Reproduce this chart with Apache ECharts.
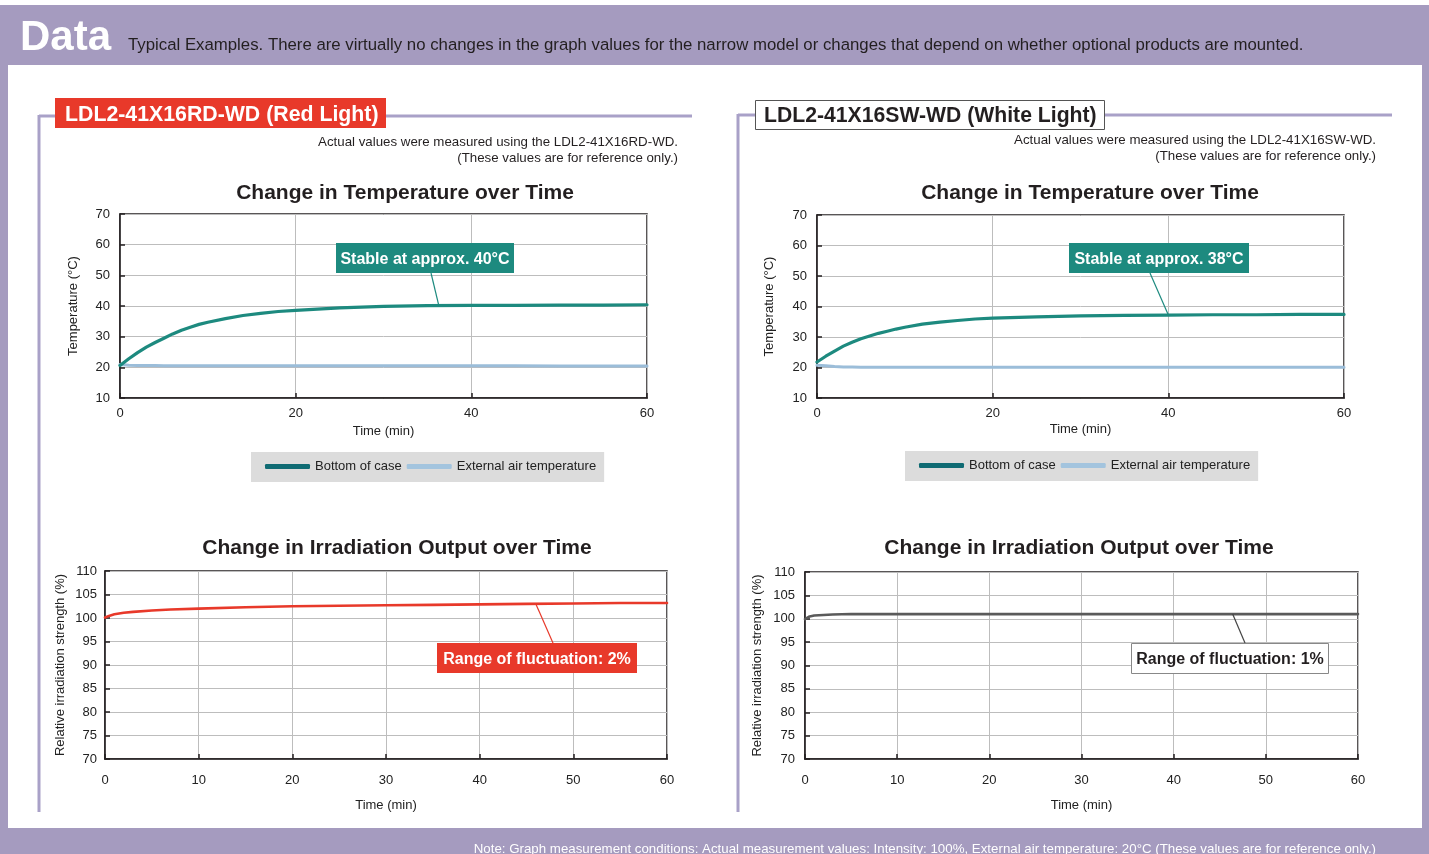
<!DOCTYPE html>
<html>
<head>
<meta charset="utf-8">
<script src="https://cdn.jsdelivr.net/npm/echarts@6/dist/echarts.min.js"></script>
<style>
html, body { margin: 0; padding: 0; background: #fff; }
#main { width: 1429px; height: 854px; }
</style>
</head>
<body>
<div id="main"></div>
<script>
// temperature curves (minutes / deg C)
var tempTime = [0, 1, 2, 3, 4, 5, 6, 7, 8, 9, 10, 12, 14, 16, 18, 20, 25, 30, 35, 40, 45, 50, 55, 60];
var redCaseTemp = [20.6, 22.8, 24.8, 26.6, 28.1, 29.5, 30.9, 32.1, 33.1, 34.0, 34.7, 35.9, 36.9, 37.6, 38.2, 38.6, 39.4, 39.9, 40.1, 40.2, 40.2, 40.3, 40.3, 40.4];
var redAirTemp = [20.9, 20.7, 20.6, 20.6, 20.6, 20.5, 20.5, 20.5, 20.5, 20.5, 20.5, 20.5, 20.5, 20.5, 20.5, 20.5, 20.5, 20.5, 20.5, 20.5, 20.5, 20.4, 20.4, 20.4];
var whiteCaseTemp = [21.8, 23.7, 25.4, 27.0, 28.3, 29.4, 30.3, 31.2, 31.9, 32.6, 33.2, 34.2, 34.9, 35.4, 35.9, 36.2, 36.6, 36.9, 37.1, 37.2, 37.3, 37.3, 37.4, 37.4];
var whiteAirTemp = [20.7, 20.6, 20.3, 20.2, 20.2, 20.1, 20.1, 20.1, 20.1, 20.1, 20.1, 20.1, 20.1, 20.1, 20.1, 20.1, 20.1, 20.1, 20.1, 20.1, 20.1, 20.1, 20.1, 20.1];

// irradiation curves (minutes / %)
var irrTime = [0, 0.5, 1, 2, 3, 5, 7, 10, 15, 20, 25, 30, 35, 40, 45, 50, 55, 60];
var redIrr = [100.1, 100.5, 100.8, 101.1, 101.3, 101.6, 101.8, 102.0, 102.3, 102.5, 102.6, 102.7, 102.8, 102.9, 103.0, 103.1, 103.2, 103.2];
var whiteIrr = [99.9, 100.5, 100.7, 100.8, 100.9, 101.0, 101.0, 101.0, 101.0, 101.0, 101.0, 101.0, 101.0, 101.0, 101.0, 101.0, 101.0, 101.0];

var tempTicks = [10, 70, 10];
var irrTicks = [70, 110, 5];

var legendNames = ['Bottom of case', 'External air temperature'];

var FONT = '"Liberation Sans", Arial, sans-serif';
var PURPLE = '#a59bbf';
var TEAL = '#1d8a7f';
var BLUE = '#9bbdd9';
var RED = '#e8392a';

function pairs(xs, ys) {
    return xs.map(function (x, i) { return [x, ys[i]]; });
}

function xAxisFor(grid, step, nameGap, margin) {
    return {
        type: 'value', gridIndex: grid, min: 0, max: 60, interval: step,
        name: 'Time (min)', nameLocation: 'middle', nameGap: nameGap,
        nameTextStyle: { fontFamily: FONT, fontSize: 13, color: '#222' },
        axisLine: { lineStyle: { color: '#231f20', width: 1.5 } },
        axisTick: { inside: true, length: 5, lineStyle: { color: '#231f20', width: 1.5 } },
        axisLabel: { fontFamily: FONT, fontSize: 13, color: '#222', margin: margin },
        splitLine: { lineStyle: { color: '#bdbdbd', width: 1 } }
    };
}

function yAxisFor(grid, ticks, name, nameGap, margin) {
    return {
        type: 'value', gridIndex: grid, min: ticks[0], max: ticks[1], interval: ticks[2],
        name: name, nameLocation: 'middle', nameGap: nameGap, nameRotate: 90,
        nameTextStyle: { fontFamily: FONT, fontSize: 13, color: '#222' },
        axisLine: { lineStyle: { color: '#231f20', width: 1.5 } },
        axisTick: { inside: true, length: 5, lineStyle: { color: '#231f20', width: 1.5 } },
        axisLabel: { fontFamily: FONT, fontSize: 13, color: '#222', margin: margin },
        splitLine: { lineStyle: { color: '#bdbdbd', width: 1 } }
    };
}

function lineSeries(name, grid, data, color, width) {
    return {
        name: name, type: 'line', xAxisIndex: grid, yAxisIndex: grid,
        data: data, smooth: false, showSymbol: false,
        lineStyle: { color: color, width: width, join: 'round', cap: 'round' },
        itemStyle: { color: color },
        z: 3
    };
}

function legendAt(left, top) {
    return {
        left: left, top: top, backgroundColor: '#dcdcdc',
        padding: [8, 8, 9, 14], itemGap: 5, itemWidth: 45, itemHeight: 5,
        icon: 'roundRect',
        textStyle: { fontFamily: FONT, fontSize: 13, color: '#222' },
        data: [
            { name: legendNames[0], itemStyle: { color: '#0f6b73' } },
            { name: legendNames[1], itemStyle: { color: '#a3c4de' } }
        ],
        selectedMode: false
    };
}

var chart = echarts.init(document.getElementById('main'));

chart.setOption({
    animation: false,
    grid: [
        { left: 120, top: 214, width: 527, height: 184, show: true, borderColor: '#231f20', borderWidth: 1.5 },
        { left: 817, top: 215, width: 527, height: 183, show: true, borderColor: '#231f20', borderWidth: 1.5 },
        { left: 105, top: 571, width: 562, height: 188, show: true, borderColor: '#231f20', borderWidth: 1.5 },
        { left: 805, top: 572, width: 553, height: 187, show: true, borderColor: '#231f20', borderWidth: 1.5 }
    ],
    xAxis: [
        xAxisFor(0, 20, 27, 9),
        xAxisFor(1, 20, 25, 9),
        xAxisFor(2, 10, 40, 15),
        xAxisFor(3, 10, 40, 15)
    ],
    yAxis: [
        yAxisFor(0, tempTicks, 'Temperature (°C)', 40, 10),
        yAxisFor(1, tempTicks, 'Temperature (°C)', 41, 10),
        yAxisFor(2, irrTicks, 'Relative irradiation strength (%)', 38, 8),
        yAxisFor(3, irrTicks, 'Relative irradiation strength (%)', 41, 10)
    ],
    legend: [legendAt(251, 452), legendAt(905, 451)],
    series: [
        lineSeries(legendNames[1], 0, pairs(tempTime, redAirTemp), BLUE, 3),
        lineSeries(legendNames[0], 0, pairs(tempTime, redCaseTemp), TEAL, 3.2),
        lineSeries(legendNames[1], 1, pairs(tempTime, whiteAirTemp), BLUE, 3),
        lineSeries(legendNames[0], 1, pairs(tempTime, whiteCaseTemp), TEAL, 3.2),
        lineSeries('Red light output', 2, pairs(irrTime, redIrr), RED, 2.6),
        lineSeries('White light output', 3, pairs(irrTime, whiteIrr), '#5a5a5a', 2.6)
    ]
});

// leader lines start on the curves
var p0 = chart.convertToPixel({ gridIndex: 0 }, [36.3, 40.1]);
var p1 = chart.convertToPixel({ gridIndex: 1 }, [40, 37.2]);
var p2 = chart.convertToPixel({ gridIndex: 2 }, [46, 103.0]);
var p3 = chart.convertToPixel({ gridIndex: 3 }, [46.4, 101.0]);

function txt(s, x, y, font, fill, align) {
    return {
        type: 'text', z: 50,
        style: { text: s, x: x, y: y, font: font, fill: fill, textAlign: align || 'left', textVerticalAlign: 'middle', verticalAlign: 'middle' }
    };
}
function rect(x, y, w, h, fill, stroke, z) {
    return {
        type: 'rect', z: z == null ? 40 : z, silent: true,
        shape: { x: x, y: y, width: w, height: h },
        style: { fill: fill, stroke: stroke || null, lineWidth: stroke ? 1 : 0 }
    };
}
function seg(x1, y1, x2, y2, color, w, z) {
    return {
        type: 'line', z: z == null ? 40 : z, silent: true,
        shape: { x1: x1, y1: y1, x2: x2, y2: y2 },
        style: { stroke: color, lineWidth: w }
    };
}

var bold21 = 'bold 21px ' + FONT;
var bold16 = 'bold 16px ' + FONT;
var reg13 = '13.3px ' + FONT;

chart.setOption({
    graphic: [
        rect(0, 5, 1429, 849, PURPLE, null, -20),
        rect(8, 65, 1414, 763, '#ffffff', null, -19),
        txt('Data', 20, 38, 'bold 42px ' + FONT, '#ffffff'),
        txt('Typical Examples. There are virtually no changes in the graph values for the narrow model or changes that depend on whether optional products are mounted.', 128, 45, '16.8px ' + FONT, '#231f20'),
        txt('Note: Graph measurement conditions: Actual measurement values: Intensity: 100%, External air temperature: 20°C (These values are for reference only.)', 1376, 849, reg13, '#ffffff', 'right'),

        // left panel frame
        seg(39, 116, 55, 116, '#a9a1c8', 3, -5),
        seg(385, 116, 692, 116, '#a9a1c8', 3, -5),
        seg(39, 115, 39, 812, '#a9a1c8', 3, -5),
        rect(55, 98, 331, 30, RED, null, 10),
        txt('LDL2-41X16RD-WD (Red Light)', 65, 115.5, 'bold 21.3px ' + FONT, '#ffffff'),
        txt('Actual values were measured using the LDL2-41X16RD-WD.', 678, 142, reg13, '#231f20', 'right'),
        txt('(These values are for reference only.)', 678, 158, reg13, '#231f20', 'right'),
        txt('Change in Temperature over Time', 405, 193, bold21, '#231f20', 'center'),
        txt('Change in Irradiation Output over Time', 397, 548, bold21, '#231f20', 'center'),

        // right panel frame
        seg(738, 115, 755, 115, '#a9a1c8', 3, -5),
        seg(1104, 115, 1392, 115, '#a9a1c8', 3, -5),
        seg(738, 114, 738, 812, '#a9a1c8', 3, -5),
        rect(755.5, 100.5, 349, 29, '#ffffff', '#555555', 10),
        txt('LDL2-41X16SW-WD (White Light)', 764, 116.5, 'bold 21.2px ' + FONT, '#231f20'),
        txt('Actual values were measured using the LDL2-41X16SW-WD.', 1376, 140, reg13, '#231f20', 'right'),
        txt('(These values are for reference only.)', 1376, 156, reg13, '#231f20', 'right'),
        txt('Change in Temperature over Time', 1090, 193, bold21, '#231f20', 'center'),
        txt('Change in Irradiation Output over Time', 1079, 548, bold21, '#231f20', 'center'),

        // annotations
        seg(431, 273, p0[0], p0[1], TEAL, 1.2),
        rect(336, 243, 178, 30, TEAL),
        txt('Stable at approx. 40°C', 425, 259.5, bold16, '#ffffff', 'center'),

        seg(1150, 273, p1[0], p1[1], TEAL, 1.2),
        rect(1069, 243, 180, 30, TEAL),
        txt('Stable at approx. 38°C', 1159, 259.5, bold16, '#ffffff', 'center'),

        seg(553, 643, p2[0], p2[1], RED, 1.2),
        rect(437, 643, 200, 30, RED),
        txt('Range of fluctuation: 2%', 537, 659.5, bold16, '#ffffff', 'center'),

        seg(1245, 643, p3[0], p3[1], '#444444', 1.2),
        rect(1131.5, 643.5, 197, 30, '#ffffff', '#888888'),
        txt('Range of fluctuation: 1%', 1230, 659.5, bold16, '#231f20', 'center')
    ]
});
</script>
</body>
</html>
